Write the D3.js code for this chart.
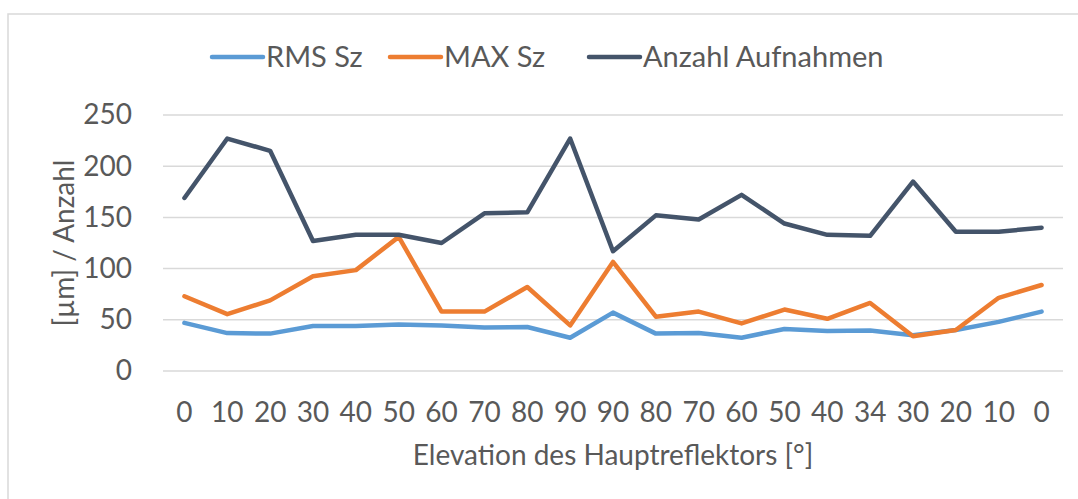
<!DOCTYPE html>
<html>
  <head>
    <meta charset="utf-8">
    <title>Elevation</title>
    <style type="text/css">
        body{
            margin: 0;
            background: #ffffff;
        }
        text{
            font-family: Lato, "Open Sans", sans-serif;
            fill: #595959;
        }
        .grid line{
            stroke: #d9d9d9;
            stroke-width: 1.5px;
        }
        .series{
            fill: none;
            stroke-width: 4.5px;
            stroke-linejoin: round;
            stroke-linecap: round;
        }
    </style>
  </head>
  <body>
    <div id="chart"></div>

    <script src="https://cdnjs.cloudflare.com/ajax/libs/d3/7.8.5/d3.min.js"></script>
    <script>
        var categories = ["0", "10", "20", "30", "40", "50", "60", "70", "80", "90",
                          "90", "80", "70", "60", "50", "40", "34", "30", "20", "10", "0"];
        var rmsSz = [47, 37, 36.5, 44, 44, 45.5, 44.5, 42.5, 43, 32.5,
                     57, 36.5, 37, 32.5, 41, 39, 39.5, 35, 40, 48, 58];
        var maxSz = [73, 55.5, 69, 92.5, 98.5, 131, 58, 58, 82, 44.5,
                     106.5, 53, 58, 46.5, 60, 51, 66.5, 34, 40, 71.5, 84];
        var anzahl = [169, 227, 215, 127, 133, 133, 125, 154, 155, 227,
                      117, 152, 148, 172, 144, 133, 132, 185, 136, 136, 140];
        var yTicks = [0, 50, 100, 150, 200, 250];

        var series = [
            {name: "RMS Sz", values: rmsSz, color: "#5b9bd5"},
            {name: "MAX Sz", values: maxSz, color: "#ed7d31"},
            {name: "Anzahl Aufnahmen", values: anzahl, color: "#44546a"}
        ];

        var width = 1078, height = 499;
        var plot = {left: 163, right: 1063, top: 115, bottom: 371};
        var fontSize = 28;

        var svg = d3.select("#chart").append("svg")
            .attr("width", width)
            .attr("height", height);

        //  chart frame, only left and top edge are in view
        svg.append("rect")
            .attr("x", 8).attr("y", 14)
            .attr("width", 1100).attr("height", 520)
            .attr("fill", "none")
            .attr("stroke", "#d9d9d9")
            .attr("stroke-width", 1.5);

        // index based band scale, categories repeat
        var x = d3.scaleBand()
            .domain(d3.range(categories.length))
            .range([plot.left, plot.right]);
        var y = d3.scaleLinear()
            .domain([0, 250])
            .range([plot.bottom, plot.top]);

        var cx = i => x(i) + x.bandwidth() / 2;

        //  gridlines
        svg.append("g")
            .attr("class", "grid")
            .selectAll("line")
            .data(yTicks)
            .enter().append("line")
                .attr("x1", plot.left)
                .attr("x2", plot.right)
                .attr("y1", d => y(d))
                .attr("y2", d => y(d));

        //  y axis labels
        var yAxis = svg.append("g")
            .attr("transform", "translate(" + (plot.left - 31) + ",0)")
            .call(d3.axisLeft(y).tickValues(yTicks).tickSize(0).tickPadding(0));
        yAxis.select(".domain").remove();
        yAxis.selectAll("text")
            .attr("font-size", fontSize)
            .attr("fill", "#595959")
            .style("font-family", "Lato, 'Open Sans', sans-serif");

        //  x axis labels
        var xAxis = svg.append("g")
            .attr("transform", "translate(0," + (plot.bottom + 31) + ")")
            .call(d3.axisBottom(x).tickFormat(i => categories[i]).tickSize(0).tickPadding(0));
        xAxis.select(".domain").remove();
        xAxis.selectAll("text")
            .attr("font-size", fontSize)
            .attr("fill", "#595959")
            .style("font-family", "Lato, 'Open Sans', sans-serif");

        //  axis titles
        svg.append("text")
            .attr("x", (plot.left + plot.right) / 2)
            .attr("y", 465)
            .attr("text-anchor", "middle")
            .attr("font-size", fontSize)
            .text("Elevation des Hauptreflektors [°]");

        svg.append("text")
            .attr("transform", "translate(74," + ((plot.top + plot.bottom) / 2) + ") rotate(-90)")
            .attr("text-anchor", "middle")
            .attr("font-size", fontSize)
            .text("[µm] / Anzahl");

        //  lines
        var line = d3.line()
            .x((d, i) => cx(i))
            .y(d => y(d));

        svg.append("g")
            .selectAll("path")
            .data(series)
            .enter().append("path")
                .attr("class", "series")
                .attr("stroke", d => d.color)
                .attr("d", d => line(d.values));

        //  legend
        var legendX = [212, 390, 589];
        var legend = svg.append("g")
            .selectAll("g")
            .data(series)
            .enter().append("g")
                .attr("transform", (d, i) => "translate(" + legendX[i] + ",57)");
        legend.append("line")
            .attr("x1", 0).attr("x2", 51)
            .attr("stroke", d => d.color)
            .attr("stroke-width", 4.5)
            .attr("stroke-linecap", "round");
        legend.append("text")
            .attr("x", 54)
            .attr("dy", "0.35em")
            .attr("font-size", fontSize + 1)
            .text(d => d.name);
    </script>
  </body>
</html>
